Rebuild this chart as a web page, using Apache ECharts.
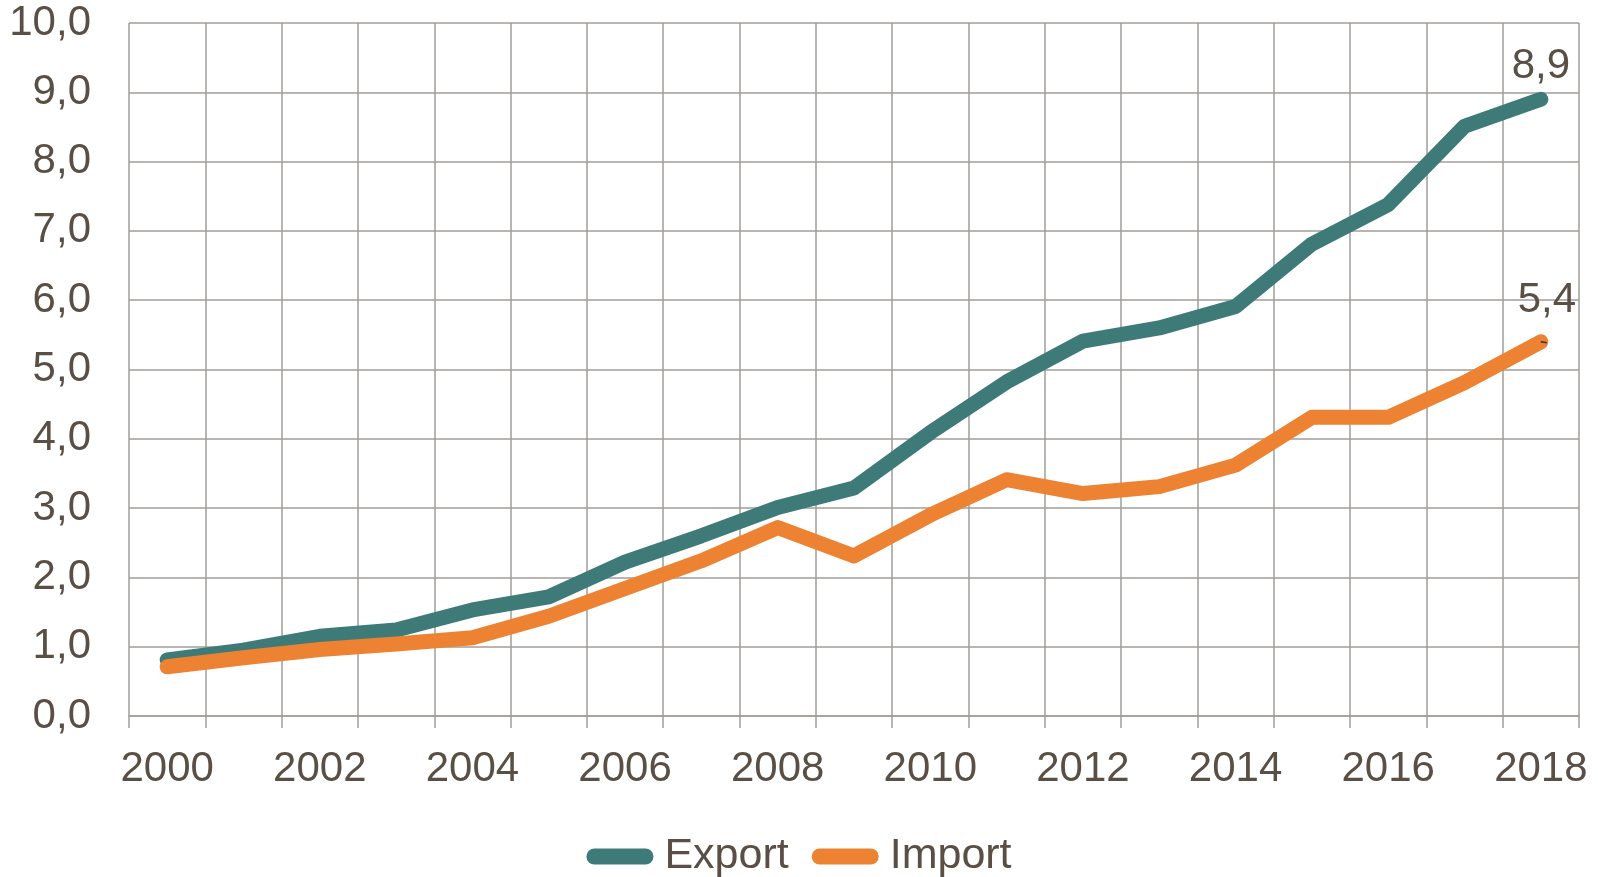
<!DOCTYPE html>
<html>
<head>
<meta charset="utf-8">
<script src="https://cdn.jsdelivr.net/npm/echarts@6/dist/echarts.min.js"></script>
<style>
html,body{margin:0;padding:0;background:#fff;}
#main{width:1598px;height:877px;}
</style>
</head>
<body>
<div id="main"></div>
<script>
let years=['2000','2001','2002','2003','2004','2005','2006','2007','2008','2009','2010','2011','2012','2013','2014','2015','2016','2017','2018'];
let exportData=[0.81,0.95,1.15,1.24,1.53,1.72,2.22,2.6,3.01,3.29,4.09,4.82,5.41,5.6,5.91,6.81,7.38,8.51,8.9];
let importData=[0.71,0.84,0.96,1.04,1.13,1.44,1.84,2.24,2.72,2.31,2.9,3.41,3.21,3.31,3.62,4.31,4.31,4.81,5.4];
let seriesNames=['Export','Import'];

let textColor='#594f44';
let gridColor='#a19d99';

function fmt(v){
    return Number(v).toFixed(1).replace('.',',');
}

// 只给最后一个点加数据标签
function withEndLabel(arr,labelOpt){
    let out=[];
    for(let i=0;i<arr.length;i++){
        if(i===arr.length-1){
            out.push({value:arr[i],label:labelOpt.label,labelLine:labelOpt.labelLine});
        }else{
            out.push(arr[i]);
        }
    }
    return out;
}

let myChart=echarts.init(document.getElementById('main'));
let option={
    animation:false,
    textStyle:{fontFamily:'"Liberation Sans", Arial, sans-serif'},
    grid:{left:129,right:19,top:23,bottom:161},
    legend:{
        data:seriesNames,
        top:830,
        left:'center',
        icon:'path://M8,0 L59,0 A8,8 0 0 1 59,16 L8,16 A8,8 0 0 1 8,0 Z',
        itemWidth:67,
        itemHeight:16,
        itemGap:23,
        textStyle:{color:textColor,fontSize:43,padding:[0,0,0,6]}
    },
    xAxis:{
        type:'category',
        data:years,
        boundaryGap:true,
        axisLine:{show:true,lineStyle:{color:gridColor,width:1.5}},
        axisTick:{show:true,interval:0,length:12,lineStyle:{color:gridColor,width:1.5}},
        splitLine:{show:true,interval:0,lineStyle:{color:gridColor,width:1.5}},
        axisLabel:{interval:1,color:textColor,fontSize:42,margin:32}
    },
    yAxis:{
        type:'value',
        min:0,
        max:10,
        interval:1,
        axisLine:{show:false},
        axisTick:{show:false},
        splitLine:{show:true,lineStyle:{color:gridColor,width:1.5}},
        axisLabel:{color:textColor,fontSize:42,margin:38,formatter:fmt}
    },
    series:[
        {
            name:'Export',
            type:'line',
            data:withEndLabel(exportData,{
                label:{show:true,position:'top',distance:12,color:textColor,fontSize:42,formatter:function(p){return fmt(p.value);}}
            }),
            symbol:'circle',
            symbolSize:0,
            showSymbol:true,
            color:'#3e7a78',
            lineStyle:{width:15,cap:'round',join:'round'}
        },
        {
            name:'Import',
            type:'line',
            data:withEndLabel(importData,{
                label:{show:true,position:'top',distance:20,offset:[6,0],color:textColor,fontSize:42,formatter:function(p){return fmt(p.value);}},
                labelLine:{show:true,lineStyle:{color:'#3a332c',width:1.5}}
            }),
            symbol:'circle',
            symbolSize:0,
            showSymbol:true,
            color:'#ee8233',
            lineStyle:{width:15,cap:'round',join:'round'}
        }
    ]
};
myChart.setOption(option);
</script>
</body>
</html>
